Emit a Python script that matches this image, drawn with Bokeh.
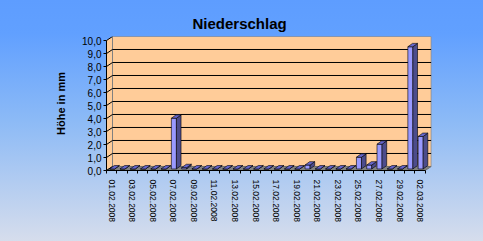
from bokeh.plotting import figure
from bokeh.models import FixedTicker, Range1d, CustomJSTickFormatter
from bokeh.embed import file_html
from bokeh.resources import INLINE

# ---- data ----
dates = ["01.02.2008", "02.02.2008", "03.02.2008", "04.02.2008", "05.02.2008",
         "06.02.2008", "07.02.2008", "08.02.2008", "09.02.2008", "10.02.2008",
         "11.02.2008", "12.02.2008", "13.02.2008", "14.02.2008", "15.02.2008",
         "16.02.2008", "17.02.2008", "18.02.2008", "19.02.2008", "20.02.2008",
         "21.02.2008", "22.02.2008", "23.02.2008", "24.02.2008", "25.02.2008",
         "26.02.2008", "27.02.2008", "28.02.2008", "29.02.2008", "01.03.2008",
         "02.03.2008"]
precip = [0, 0, 0, 0, 0, 0, 3.9, 0.1, 0, 0,
          0, 0, 0, 0, 0, 0, 0, 0, 0, 0.3,
          0, 0, 0, 0, 0.9, 0.3, 1.9, 0, 0, 9.4,
          2.5]
y_ticks = [0, 1, 2, 3, 4, 5, 6, 7, 8, 9, 10]
y_tick_labels = ["0,0", "1,0", "2,0", "3,0", "4,0", "5,0", "6,0", "7,0", "8,0", "9,0", "10,0"]

FONT = "Liberation Sans"
n = len(dates)
ymax = y_ticks[-1]
WDX, WDY = 0.584, 0.31      # wall depth (data units)
BDX, BDY = 0.45, 0.26       # bar depth
BOFF, BW, BBASE = 0.31, 0.49, 0.12

p = figure(width=483, height=241, x_range=Range1d(0, n + 0.61), y_range=Range1d(0, ymax + WDY),
           output_backend="svg", toolbar_location=None,
           min_border_left=106, min_border_right=52, min_border_top=36, min_border_bottom=71,
           background_fill_color=None, border_fill_color=None, outline_line_color=None)
p.styles = {"background": "linear-gradient(to bottom, #5E9DFF 0%, #61A0FF 14%, #8CBAF6 50%, #D6DDEC 100%)"}

# walls
p.patch([0, WDX, WDX, 0], [0, WDY, ymax + WDY, ymax], fill_color="#FFCC99", line_color=None)
p.quad(left=WDX, right=n + WDX, bottom=WDY, top=ymax + WDY, fill_color="#FFCC99",
       line_color="#808080", line_width=1)
p.patch([0, n, n + WDX, WDX], [0, 0, WDY, WDY], fill_color="#808080", line_color="#707070")
inner = [t for t in y_ticks if 0 < t < ymax]
p.segment(x0=[WDX] * len(inner), y0=[t + WDY for t in inner], x1=[n + WDX] * len(inner),
          y1=[t + WDY for t in inner], line_color="black", line_width=1)
p.segment(x0=[0] * len(y_ticks), y0=y_ticks, x1=[WDX] * len(y_ticks),
          y1=[t + WDY for t in y_ticks], line_color="black", line_width=1)

# 3D bars
L = [i + BOFF for i in range(n)]
R = [l + BW for l in L]
B = [BBASE] * n
T = [BBASE + v for v in precip]
p.quad(left=L, right=R, bottom=B, top=T, fill_color="#9999FF", line_color="black", line_width=0.6)
p.patches(xs=[[r, r + BDX, r + BDX, r] for r in R],
          ys=[[b, b + BDY, t + BDY, t] for b, t in zip(B, T)],
          fill_color="#4C4C8C", line_color="black", line_width=0.6)
p.patches(xs=[[l, r, r + BDX, l + BDX] for l, r in zip(L, R)],
          ys=[[t, t, t + BDY, t + BDY] for t in T],
          fill_color="#6666CC", line_color="black", line_width=0.6)

# axes
xa = p.xaxis[0]
xa.ticker = FixedTicker(ticks=[i + 0.5 for i in range(0, n, 2)], minor_ticks=list(range(n + 1)))
xa.formatter = CustomJSTickFormatter(args=dict(labels=dates), code="return labels[Math.floor(tick)];")
xa.major_label_orientation = "vertical"
xa.major_tick_line_color = None
xa.minor_tick_out = 3
xa.minor_tick_in = 0
xa.minor_tick_line_color = "black"
xa.axis_line_color = "black"
xa.bounds = (0, n)
xa.major_label_standoff = 3
xa.major_label_text_font = FONT
xa.major_label_text_font_size = "8.5px"
xa.major_label_text_color = "black"

ya = p.yaxis[0]
ya.ticker = FixedTicker(ticks=y_ticks, minor_ticks=[])
ya.formatter = CustomJSTickFormatter(args=dict(labels=y_tick_labels), code="return labels[Math.round(tick)];")
ya.major_tick_out = 3
ya.major_tick_in = 0
ya.major_tick_line_color = "black"
ya.axis_line_color = "black"
ya.bounds = (0, ymax)
ya.major_label_standoff = 2
ya.major_label_text_font = FONT
ya.major_label_text_font_size = "10px"
ya.major_label_text_color = "black"
ya.axis_label = "Höhe in mm"
ya.axis_label_text_font = FONT
ya.axis_label_text_font_size = "11px"
ya.axis_label_text_font_style = "bold"
ya.axis_label_text_color = "black"
ya.axis_label_standoff = 12

p.xgrid.visible = False
p.ygrid.visible = False

p.title.text = "Niederschlag"
p.title.align = "left"
p.title.offset = 86
p.title.text_font = FONT
p.title.text_font_size = "15px"
p.title.text_font_style = "bold"
p.title.text_color = "black"

open("out.html", "w").write(file_html(p, INLINE))
